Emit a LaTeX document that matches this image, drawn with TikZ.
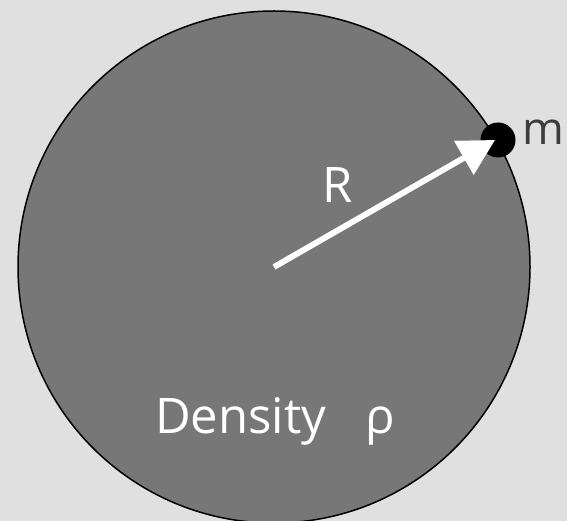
\documentclass[tikz,border=0pt]{standalone}
\usepackage{fontspec}
\setmainfont{Open Sans}
\usetikzlibrary{arrows.meta}
\definecolor{bg}{RGB}{224,224,224}
\definecolor{ball}{RGB}{119,119,119}
\definecolor{mtext}{RGB}{60,60,60}
\tikzset{
  lbl/.style={font=\fontsize{49}{55}\selectfont, inner sep=0pt, anchor=base west},
  vec/.style={line width=6pt, -{Triangle[length=36pt,width=38pt]}},
}
\begin{document}
\begin{tikzpicture}[x=1pt,y=-1pt]
\useasboundingbox (0,0) rectangle (567,521);
\clip (0,0) rectangle (567,521);
\fill[bg] (0,0) rectangle (567,521);
\coordinate (c) at (274,267);
\coordinate (tip) at (495,140);
\draw[line width=1.5pt, fill=ball] (c) circle[radius=256pt];
\node[circle, fill=black, minimum size=35pt, inner sep=0pt] (mass) at (498,140) {};
\draw[vec, black!70, shift={(1.5,1.5)}] (c) -- (tip);
\draw[vec, white] (c) -- (tip);
\node[lbl, text=white] (R) at (322,203) {R};
\node[lbl, text=white] (dens) at (155,433) {Density\hspace{0.8em}ρ};
\node[lbl, text=mtext, font=\fontsize{45}{50}\selectfont] (m) at (522,145) {m};
\end{tikzpicture}
\end{document}
